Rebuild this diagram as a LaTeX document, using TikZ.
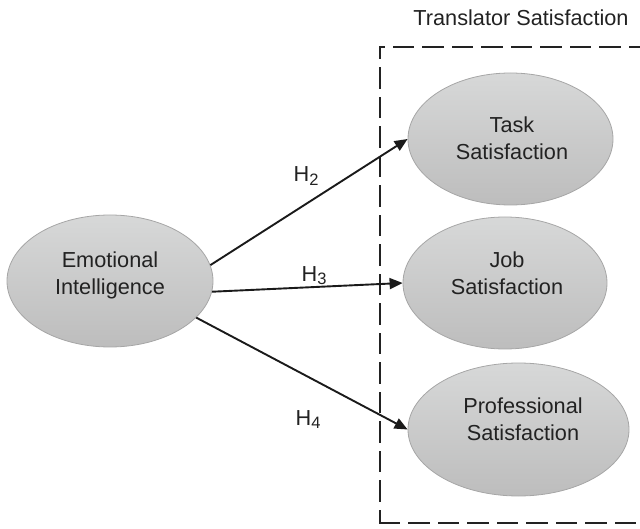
\documentclass[tikz,border=0pt]{standalone}
\usepackage{fontspec}
\setmainfont{Liberation Sans}
\usetikzlibrary{arrows.meta,shapes.geometric}
\definecolor{ellTop}{HTML}{D7D8D8}
\definecolor{ellBot}{HTML}{BDBDBD}
\definecolor{ellLine}{HTML}{A6A6A6}
\definecolor{txt}{HTML}{222222}
\definecolor{ink}{HTML}{1A1A1A}
\begin{document}
\begin{tikzpicture}[x=1pt,y=-1pt,
  ell/.style={ellipse, draw=ellLine, line width=0.8pt, top color=ellTop, bottom color=ellBot,
    inner sep=0pt, minimum width=205pt, minimum height=132pt},
  lbl/.style={align=center, font=\fontsize{21.7pt}{27pt}\selectfont, text=txt, inner sep=0pt},
  hlbl/.style={font=\fontsize{21.7pt}{26pt}\selectfont, text=txt, inner sep=0pt, anchor=base west},
  arr/.style={draw=ink, line width=1.9pt, -{Triangle[length=13pt,width=11pt]}},
  dashline/.style={draw=txt, line width=2.7pt, line cap=rect, dash pattern=on 19pt off 10.5pt}]
\useasboundingbox (0,0) rectangle (640,529);
\clip (0,0) rectangle (640,529);
% dashed frame
\coordinate (tl) at (380,47);
\coordinate (bl) at (380,523);
\coordinate (tr) at (680,47);
\coordinate (br) at (680,523);
\draw[dashline, dash phase=15.5pt] (tl) -- (tr);
\draw[dashline, dash phase=8pt] (tl) -- (bl);
\draw[dashline, dash phase=0pt] (bl) -- (br);
\node[lbl] (ttl) at (521,18) {Translator Satisfaction};
% ellipses
\node[ell, minimum width=206pt] (ei) at (110,281) {};
\node[ell] (task) at (510.5,139) {};
\node[ell, minimum width=204pt] (job) at (505,283) {};
\node[ell, minimum width=221pt, minimum height=133pt] (prof) at (518.5,429.5) {};
\node[lbl] (eit) at (110,275) {Emotional\\Intelligence};
\node[lbl] (taskt) at (512,138) {Task\\Satisfaction};
\node[lbl] (jobt) at (507,273) {Job\\Satisfaction};
\node[lbl] (proft) at (523,419) {Professional\\Satisfaction};
% arrows
\draw[arr] (ei.9) -- (task.west);
\draw[arr] (ei.-6) -- (job.west);
\draw[arr] (ei.-23) -- (prof.west);
% hypothesis labels
\node[hlbl] (h2) at (293.5,182) {H\raisebox{-3.5pt}{\fontsize{16.5pt}{16.5pt}\selectfont 2}};
\node[hlbl] (h3) at (301.5,281.5) {H\raisebox{-3.5pt}{\fontsize{16.5pt}{16.5pt}\selectfont 3}};
\node[hlbl] (h4) at (295.5,425) {H\raisebox{-3.5pt}{\fontsize{16.5pt}{16.5pt}\selectfont 4}};
\end{tikzpicture}
\end{document}
